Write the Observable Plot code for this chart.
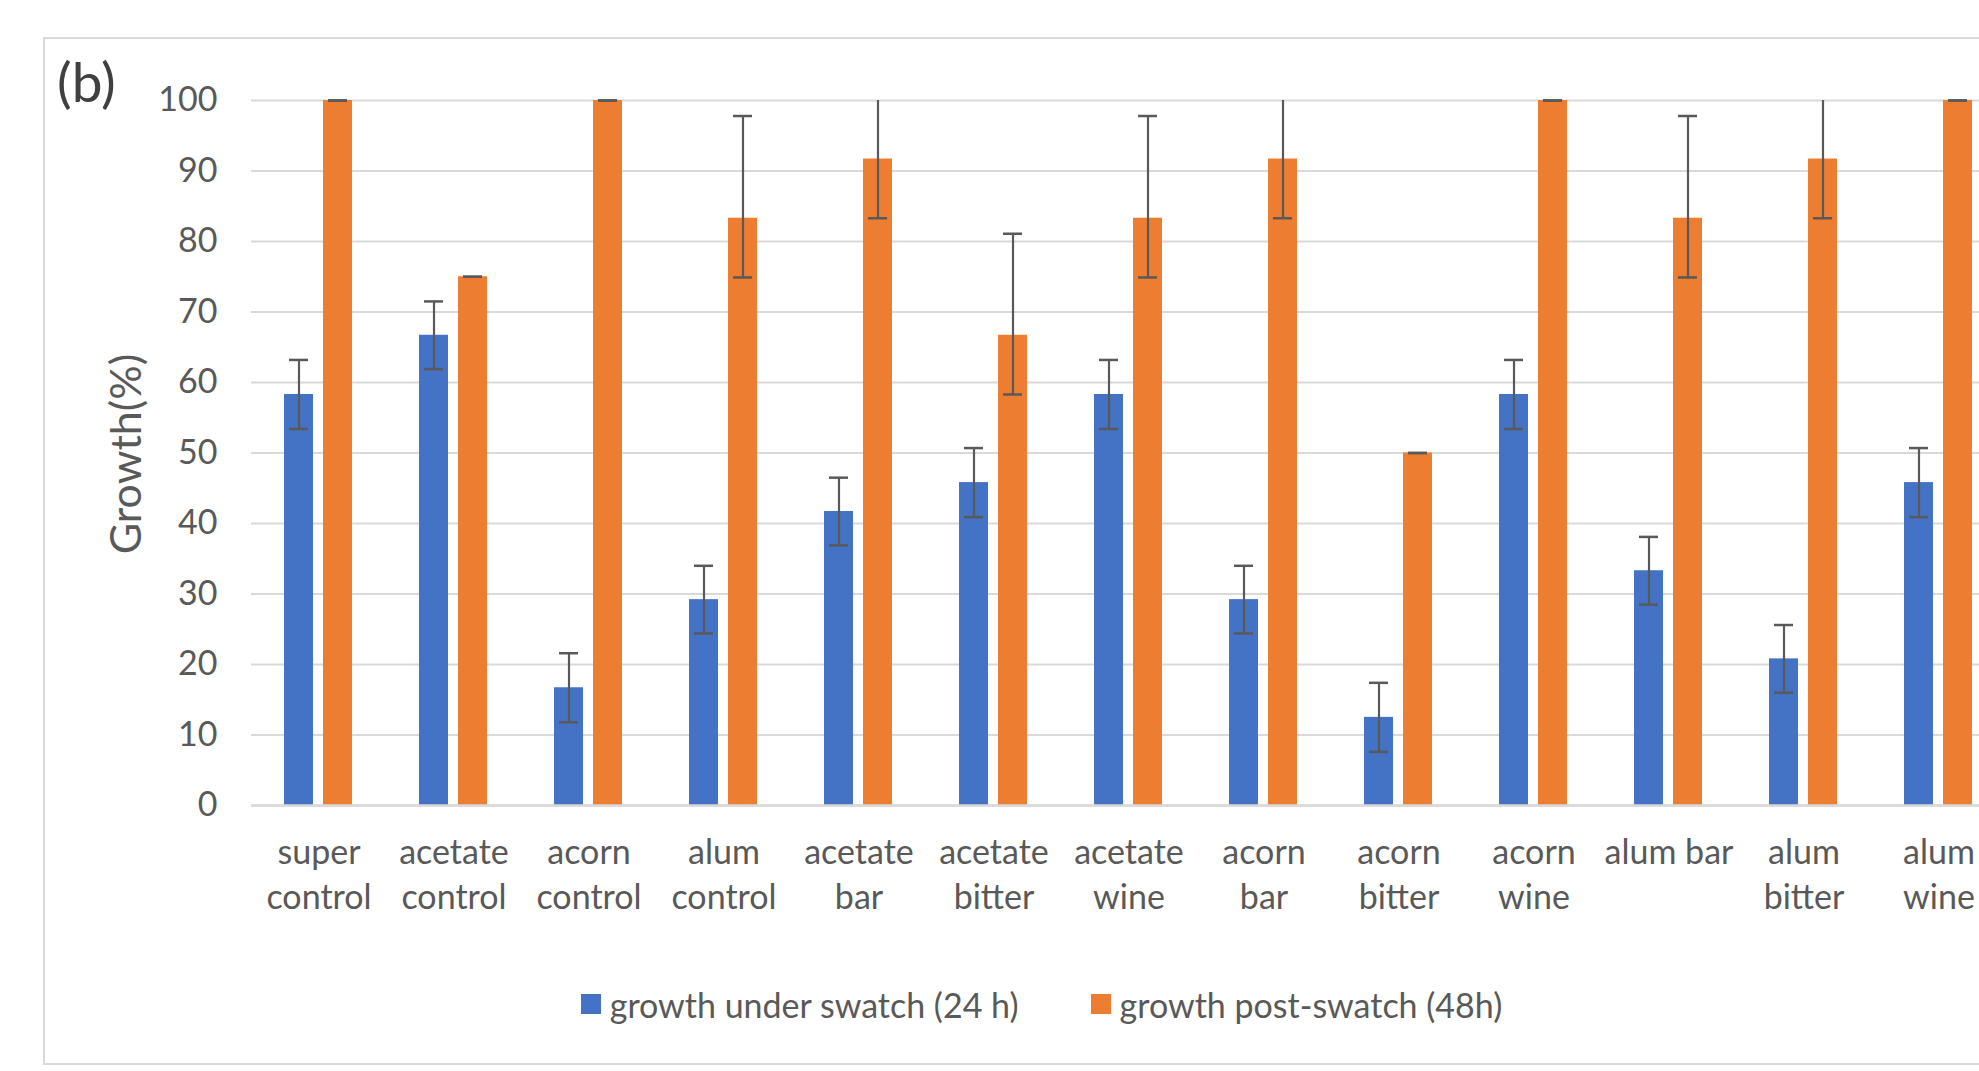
<!DOCTYPE html>
<html>
<head>
<meta charset="utf-8">
<script src="https://cdn.jsdelivr.net/npm/d3@7"></script>
<script src="https://cdn.jsdelivr.net/npm/@observablehq/plot@0.6"></script>
<style>
  html, body { margin: 0; padding: 0; background: #fff; overflow: hidden; width: 1979px; height: 1071px; }
  #frame { position: absolute; left: 43px; top: 37px; width: 1997px; height: 1028px; border: 2px solid #D9D9D9; box-sizing: border-box; }
  #chart { position: absolute; left: 0; top: 0; }
  #chart svg { max-width: none !important; }
  #panel { position: absolute; left: 57px; top: 48px; font-family: Lato, sans-serif; font-size: 55px; color: #404040; line-height: 66px; }
  #ytitle { position: absolute; left: 124px; top: 454px; transform: translate(-50%, -50%) rotate(-90deg); font-family: Lato, sans-serif; font-size: 43px; color: #595959; white-space: nowrap; }
  #legend { position: absolute; left: 43px; width: 1997px; top: 984px; height: 40px; display: flex; justify-content: center; align-items: center; font-family: Lato, sans-serif; font-size: 34px; color: #595959; }
  .item { display: flex; align-items: center; margin: 0 36px; }
  .sw { width: 20px; height: 20px; margin-right: 9px; }
</style>
</head>
<body>
<div id="frame"></div>
<div id="chart"></div>
<div id="panel">(b)</div>
<div id="ytitle">Growth(%)</div>
<div id="legend"></div>
<script>
const categories = ["super control", "acetate control", "acorn control", "alum control", "acetate bar", "acetate bitter", "acetate wine", "acorn bar", "acorn bitter", "acorn wine", "alum bar", "alum bitter", "alum wine"];
const tickLabels = ["super\ncontrol", "acetate\ncontrol", "acorn\ncontrol", "alum\ncontrol", "acetate\nbar", "acetate\nbitter", "acetate\nwine", "acorn\nbar", "acorn\nbitter", "acorn\nwine", "alum bar", "alum\nbitter", "alum\nwine"];
const series = ["growth under swatch (24 h)", "growth post-swatch (48h)"];
const colors = ["#4472C4", "#ED7D31"];
const growth24 = [58.3, 66.7, 16.7, 29.2, 41.7, 45.8, 58.3, 29.2, 12.5, 58.3, 33.3, 20.8, 45.8];
const err24 = [4.9, 4.8, 4.9, 4.8, 4.8, 4.9, 4.9, 4.8, 4.9, 4.9, 4.8, 4.8, 4.9];
const growth48 = [100, 75, 100, 83.3, 91.7, 66.7, 83.3, 91.7, 50, 100, 83.3, 91.7, 100];
const err48Up = [0, 0, 0, 14.5, 14.5, 14.4, 14.5, 14.5, 0, 0, 14.5, 14.5, 0];
const err48Down = [0, 0, 0, 8.4, 8.4, 8.4, 8.4, 8.4, 0, 0, 8.4, 8.4, 0];
const yTicks = [0, 10, 20, 30, 40, 50, 60, 70, 80, 90, 100];

const data = categories.flatMap((c, i) => [
  {cat: c, series: series[0], value: growth24[i], lo: growth24[i] - err24[i], hi: growth24[i] + err24[i]},
  {cat: c, series: series[1], value: growth48[i], lo: growth48[i] - err48Down[i], hi: growth48[i] + err48Up[i]}
]);

const chart = Plot.plot({
  width: 2040,
  height: 960,
  marginLeft: 250,
  marginRight: 33,
  marginTop: 100,
  marginBottom: 155,
  style: {fontFamily: "Lato, sans-serif", fontSize: "34px", color: "#595959", background: "transparent", maxWidth: "none"},
  fx: {domain: categories, padding: 0, label: null},
  x: {domain: series, paddingInner: 0.25, paddingOuter: 0.8146, axis: null},
  y: {domain: [0, 100], label: null},
  color: {domain: series, range: colors},
  marks: [
    Plot.gridY(yTicks, {stroke: "#D9D9D9", strokeOpacity: 1, strokeWidth: 2}),
    Plot.barY(data, {fx: "cat", x: "series", y: "value", fill: "series"}),
    Plot.ruleY([0], {stroke: "#D9D9D9", strokeWidth: 2.5}),
    Plot.ruleX(data, {fx: "cat", x: "series", y1: "lo", y2: "hi", stroke: "#595959", strokeWidth: 2.2, clip: true}),
    Plot.tickY(data.filter(d => d.hi <= 100), {fx: "cat", x: "series", y: "hi", stroke: "#595959", strokeWidth: 2.5, insetLeft: 5, insetRight: 5}),
    Plot.tickY(data, {fx: "cat", x: "series", y: "lo", stroke: "#595959", strokeWidth: 2.5, insetLeft: 5, insetRight: 5}),
    Plot.axisY({ticks: yTicks, tickSize: 0, tickPadding: 34, label: null}),
    Plot.axisFx({anchor: "bottom", tickSize: 0, tickPadding: 27, label: null, lineHeight: 1.32, tickFormat: d => tickLabels[categories.indexOf(d)]})
  ]
});
document.getElementById("chart").appendChild(chart);

const legend = document.getElementById("legend");
series.forEach((s, i) => {
  const item = document.createElement("div");
  item.className = "item";
  const sw = document.createElement("div");
  sw.className = "sw";
  sw.style.background = colors[i];
  const t = document.createElement("span");
  t.textContent = s;
  item.appendChild(sw);
  item.appendChild(t);
  legend.appendChild(item);
});
</script>
</body>
</html>
